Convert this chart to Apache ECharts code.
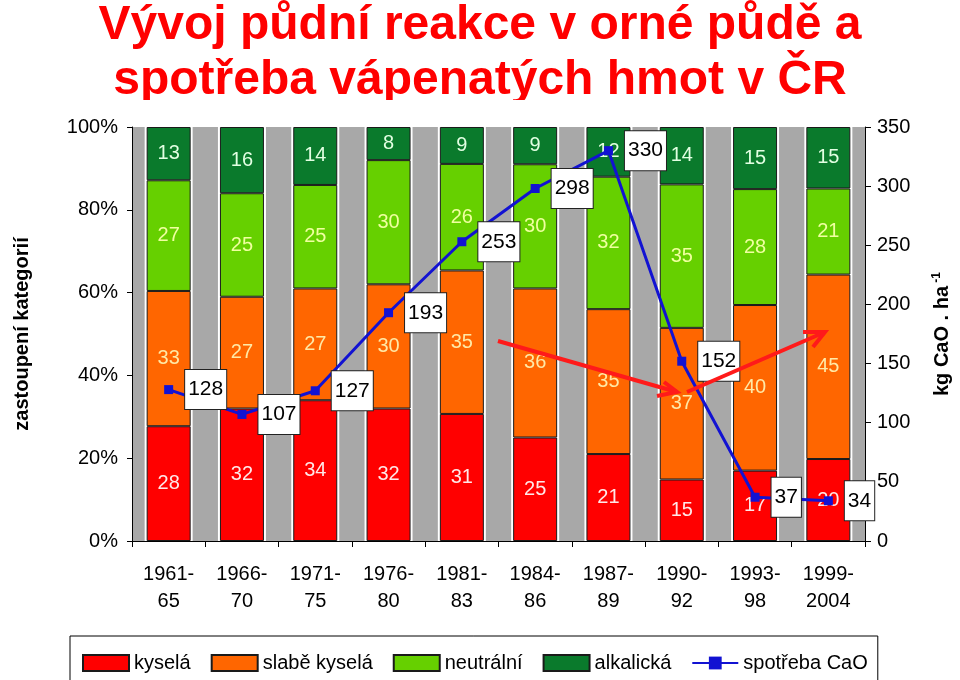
<!DOCTYPE html>
<html><head><meta charset="utf-8">
<script src="https://cdn.jsdelivr.net/npm/echarts@6/dist/echarts.min.js"></script>
<style>html,body{margin:0;padding:0;background:#fff}#c{width:960px;height:680px}</style>
</head><body><div id="c"></div>
<script>
const categories = ['1961-\n65','1966-\n70','1971-\n75','1976-\n80','1981-\n83','1984-\n86','1987-\n89','1990-\n92','1993-\n98','1999-\n2004'];
const kysela      = [28,32,34,32,31,25,21,15,17,20];
const slabeKysela = [33,27,27,30,35,36,35,37,40,45];
const neutralni   = [27,25,25,30,26,30,32,35,28,21];
const alkalicka   = [13,16,14,8,9,9,12,14,15,15];
const spotrebaCaO = [128,107,127,193,253,298,330,152,37,34];
const seriesNames = ['kyselá','slabě kyselá','neutrální','alkalická','spotřeba CaO'];

const raw = [kysela, slabeKysela, neutralni, alkalicka];
const totals = categories.map((_, i) => raw.reduce((s, a) => s + a[i], 0));
const pct = a => a.map((v, i) => v / totals[i] * 100);

const fills = ['#ff0000','#ff6600','#66d000','#0a7a2c'];
const labelColors = ['#ffe8e8','#ffe9a6','#f0ffa0','#e2ffe2'];

const barSeries = raw.map((arr, k) => ({
  name: seriesNames[k], type: 'bar', stack: 'p', xAxisIndex: 0, yAxisIndex: 0,
  barWidth: 44, z: 3,
  data: pct(arr),
  itemStyle: { color: fills[k], borderColor: '#1a1a1a', borderWidth: 1 },
  label: { show: true, position: 'inside', fontFamily: 'Liberation Sans, Arial, sans-serif', fontSize: 20,
           color: labelColors[k], formatter: p => String(arr[p.dataIndex]) },
  emphasis: { disabled: true }
}));

const chart = echarts.init(document.getElementById('c'));
chart.setOption({
  animation: false,
  textStyle: { fontFamily: 'Liberation Sans, Arial, sans-serif' },
  title: {
    text: 'Vývoj půdní reakce v orné půdě a\nspotřeba vápenatých hmot v ČR',
    left: 'center', top: -2, padding: 0,
    textStyle: { color: '#ff0000', fontSize: 48, fontWeight: 'bold', lineHeight: 55,
                 fontFamily: 'Liberation Sans, Arial, sans-serif' }
  },
  grid: { left: 132, right: 94, top: 127, bottom: 139, show: true, backgroundColor: '#a8a8a8', borderWidth: 0 },
  legend: {
    left: 70, top: 636, padding: [17, 10, 14, 12],
    borderColor: '#000', borderWidth: 1, itemWidth: 46, itemHeight: 16, itemGap: 20,
    textStyle: { fontSize: 20, color: '#000' },
    data: [
      { name: seriesNames[0], icon: 'rect' },
      { name: seriesNames[1], icon: 'rect' },
      { name: seriesNames[2], icon: 'rect' },
      { name: seriesNames[3], icon: 'rect' },
      { name: seriesNames[4] }
    ]
  },
  xAxis: [
    { type: 'category', data: categories, gridIndex: 0,
      axisLine: { lineStyle: { color: '#000', width: 1 } },
      axisTick: { show: true, length: 6, lineStyle: { color: '#000' } },
      axisLabel: { interval: 0, fontSize: 20, color: '#000', lineHeight: 27, margin: 20 } },
    { type: 'category', data: categories, gridIndex: 0, show: false }
  ],
  yAxis: [
    { type: 'value', min: 0, max: 100, interval: 20, position: 'left',
      axisLine: { show: true, lineStyle: { color: '#000' } },
      axisTick: { show: true, length: 5, lineStyle: { color: '#000' } },
      splitLine: { show: false },
      axisLabel: { formatter: '{value}%', fontSize: 20, color: '#000', margin: 14 },
      name: 'zastoupení kategorií', nameLocation: 'middle', nameRotate: 90, nameGap: 100,
      nameTextStyle: { fontSize: 20, fontWeight: 'bold', color: '#000' } },
    { type: 'value', min: 0, max: 350, interval: 50, position: 'right',
      axisLine: { show: true, lineStyle: { color: '#000' } },
      axisTick: { show: true, length: 6, lineStyle: { color: '#000' } },
      splitLine: { show: false },
      axisLabel: { fontSize: 20, color: '#000', margin: 12 },
      name: '{a|kg CaO . ha}{b| -1}', nameLocation: 'middle', nameRotate: 90, nameGap: 66,
      nameTextStyle: { rich: {
        a: { fontSize: 20, fontWeight: 'bold', color: '#000' },
        b: { fontSize: 12, fontWeight: 'bold', color: '#000', verticalAlign: 'top', padding: [0,0,10,0] }
      } } }
  ],
  series: [
    { name: '_gap', type: 'bar', xAxisIndex: 1, yAxisIndex: 0, barWidth: 48, z: 1, silent: true,
      data: categories.map(() => 100), itemStyle: { color: '#ffffff' }, emphasis: { disabled: true } },
    ...barSeries,
    { name: seriesNames[4], type: 'line', xAxisIndex: 0, yAxisIndex: 1, z: 6,
      data: spotrebaCaO, symbol: 'rect', symbolSize: 9,
      itemStyle: { color: '#1212d2' }, lineStyle: { color: '#1212d2', width: 3 },
      label: { show: true, position: 'right', distance: 12, color: '#000', fontSize: 21,
               backgroundColor: '#fff', borderColor: '#222', borderWidth: 1, padding: [10, 3, 8, 3] },
      emphasis: { disabled: true } }
  ],
  graphic: [
    { type: 'rect', left: 0, top: 100, z: 100, shape: { x: 0, y: 0, width: 960, height: 12 }, style: { fill: '#fff' } },
    { type: 'polyline', z: 100, shape: { points: [[498,341],[677,392]] }, style: { stroke: '#ff1a1a', lineWidth: 4, fill: null } },
    { type: 'polyline', z: 100, shape: { points: [[657,396],[677,392],[664,382]] }, style: { stroke: '#ff1a1a', lineWidth: 4, fill: null, lineJoin: 'miter' } },
    { type: 'polyline', z: 100, shape: { points: [[687,392],[825,332]] }, style: { stroke: '#ff1a1a', lineWidth: 4, fill: null } },
    { type: 'polyline', z: 100, shape: { points: [[803,332],[825,332],[813,347]] }, style: { stroke: '#ff1a1a', lineWidth: 4, fill: null, lineJoin: 'miter' } }
  ]
});
</script>
</body></html>
